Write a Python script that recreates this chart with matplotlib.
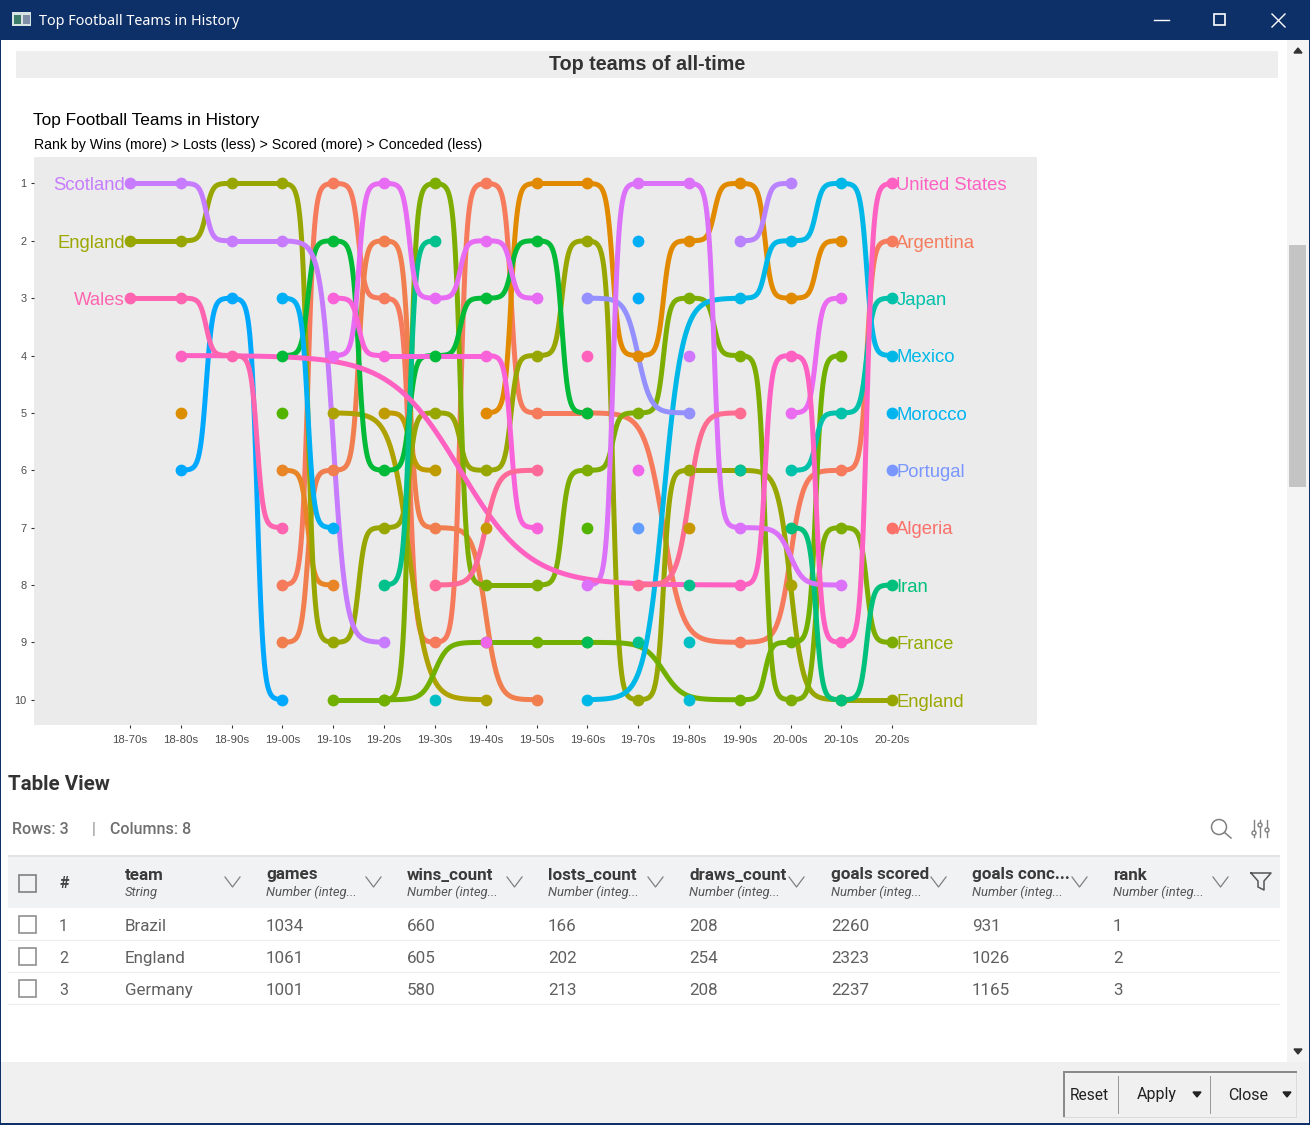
import numpy as np
import matplotlib
matplotlib.use('Agg')
import matplotlib.pyplot as plt
from matplotlib.patches import Rectangle, Circle, Polygon

decades = ['18-70s', '18-80s', '18-90s', '19-00s', '19-10s', '19-20s', '19-30s', '19-40s',
           '19-50s', '19-60s', '19-70s', '19-80s', '19-90s', '20-00s', '20-10s', '20-20s']
ranks = list(range(1, 11))

_ = None
# rank per decade, one list per line, in hue (alphabetical) order
algeria =    [_, _, _, _, _, _, _, _, _, _, _, _, _, _, _, 7]
argentina =  [_, _, _, 8, 1, 3, 9, 1, 5, 5, _, _, 9, _, 6, 2]
team_03 =    [_, _, _, 9, 6, 2, 7, _, 10, _, _, _, _, _, _, _]
team_04 =    [_, _, _, 6, 8, _, _, _, _, _, _, _, _, _, _, _]
team_05 =    [_, _, _, _, _, _, _, 5, 1, 1, 4, 2, 1, 3, 2, _]
team_06 =    [_, 5, _, _, _, _, _, _, _, _, _, _, _, _, _, _]
team_07 =    [_, _, _, _, _, 5, 6, _, _, _, _, _, _, _, _, _]
team_08 =    [_, _, _, _, _, _, _, 7, _, _, _, _, _, _, _, _]
team_09 =    [_, _, _, _, _, _, _, _, _, _, _, 7, _, _, _, _]
team_10 =    [_, _, _, _, 5, _, _, 10, _, _, _, _, _, _, _, _]
team_11 =    [_, _, _, _, _, _, _, _, _, _, _, _, _, 8, _, _]
england =    [2, 2, 1, 1, 9, 7, 5, 6, 4, 2, 10, 6, 6, _, 10, 10]
france =     [_, _, _, _, _, 10, 1, 8, 8, 6, 5, 3, 4, 10, 7, 9]
team_14 =    [_, _, _, _, 10, 10, _, 9, 9, 9, _, _, 10, 9, 4, _]
team_15a =   [_, _, _, 5, _, _, _, _, _, _, _, _, _, _, _, _]
team_15b =   [_, _, _, _, _, _, _, _, _, 7, _, _, _, _, _, _]
team_16 =    [_, _, _, 4, 2, 6, 4, 3, 2, 5, _, _, _, _, _, _]
team_17 =    [_, _, _, _, _, _, _, _, _, 9, _, _, _, _, _, _]
iran =       [_, _, _, _, _, _, _, _, _, _, _, _, _, 7, 10, 8]
team_19a =   [_, _, _, _, _, 8, 2, _, _, _, _, _, _, _, _, _]
team_19b =   [_, _, _, _, _, _, _, _, _, _, 9, _, _, _, _, _]
team_19c =   [_, _, _, _, _, _, _, _, _, _, _, 8, _, _, _, _]
team_20 =    [_, _, _, _, _, _, _, _, _, _, _, _, 6, _, _, _]
japan =      [_, _, _, _, _, _, _, _, _, _, _, _, _, 6, 5, 3]
team_22a =   [_, _, _, _, _, _, 10, _, _, _, _, _, _, _, _, _]
team_22b =   [_, _, _, _, _, _, _, _, _, _, _, 9, _, _, _, _]
team_23 =    [_, _, _, _, _, _, _, _, _, _, _, 10, _, _, _, _]
mexico =     [_, _, _, _, _, _, _, _, _, 10, _, _, 3, 2, 1, 4]
morocco =    [_, _, _, _, _, _, _, _, _, _, _, _, _, _, _, 5]
team_26 =    [_, _, _, 3, 7, _, _, _, _, _, _, _, _, _, _, _]
team_27 =    [_, _, _, _, _, _, _, _, _, _, 2, _, _, _, _, _]
team_28 =    [_, _, _, _, _, _, _, _, _, _, 3, _, _, _, _, _]
team_29 =    [_, 6, 3, 10, _, _, _, _, _, _, _, _, _, _, _, _]
team_30 =    [_, _, _, _, _, _, _, _, _, _, 7, _, _, _, _, _]
portugal =   [_, _, _, _, _, _, _, _, _, _, _, _, _, _, _, 6]
team_32 =    [_, _, _, _, _, _, _, _, _, 3, _, 5, _, _, _, _]
team_33 =    [_, _, _, _, _, _, _, _, _, _, _, _, 2, 1, _, _]
scotland =   [1, 1, 2, 2, _, 9, _, _, _, _, _, _, _, _, _, _]
team_35 =    [_, _, _, _, _, _, _, _, _, _, _, 4, _, _, _, _]
team_36 =    [_, _, _, _, _, _, _, _, _, 8, 1, 1, 7, _, 8, _]
team_37 =    [_, _, _, _, 4, 1, 3, 2, 3, _, _, _, _, _, _, _]
team_38 =    [_, _, _, _, _, _, _, _, _, _, _, _, _, 5, 3, _]
team_39a =   [_, _, _, _, _, _, _, 9, _, _, _, _, _, _, _, _]
team_39b =   [_, _, _, _, _, _, _, _, _, _, 6, _, _, _, _, _]
team_40 =    [_, _, _, _, 3, 4, _, 4, 7, _, _, _, _, _, _, _]
team_41 =    [_, _, _, _, _, _, _, _, _, 4, _, _, _, _, _, _]
usa =        [_, 4, _, _, _, _, _, _, _, _, _, _, 8, 4, 9, 1]
wales =      [3, 3, 4, 7, _, _, _, _, _, _, _, _, _, _, _, _]
team_44 =    [_, _, _, _, _, _, 8, _, 6, _, _, _, _, _, _, _]
team_45 =    [_, _, _, _, _, _, _, _, _, _, 8, _, 5, _, _, _]

team_lines = [algeria, argentina, team_03, team_04, team_05, team_06, team_07, team_08, team_09,
              team_10, team_11, england, france, team_14, team_15a, team_15b, team_16, team_17, iran,
              team_19a, team_19b, team_19c, team_20, japan, team_22a, team_22b, team_23, mexico,
              morocco, team_26, team_27, team_28, team_29, team_30, portugal, team_32, team_33,
              scotland, team_35, team_36, team_37, team_38, team_39a, team_39b, team_40, team_41,
              usa, wales, team_44, team_45]
team_colors = ['#FB7069', '#F67B5C', '#F07E4F', '#E88526', '#E18A00', '#DB8E00', '#C09B00', '#C49A00',
               '#C89800', '#AEA200', '#A9A400', '#97A600', '#7DAD00', '#72B000', '#53B400', '#53B400',
               '#00BA38', '#00BC56', '#00C07B', '#00C08B', '#00C08B', '#00C08B', '#00C19C', '#00C1A9',
               '#00BFC4', '#00BFC4', '#00BCD8', '#00B8E7', '#00B4F0', '#00B0F6', '#00AEF8', '#00ACFA',
               '#00A9FF', '#619CFF', '#7997FF', '#9590FF', '#B983FF', '#C77CFF', '#CF78FF', '#DC71FA',
               '#E76BF3', '#EA6AF0', '#F066EA', '#F066EA', '#F962D8', '#FF62BC', '#FF61C3', '#FF64B0',
               '#FF6A98', '#FF6C91']

left_labels = ['Scotland', 'England', 'Wales']
left_ranks = [1, 2, 3]
left_colors = ['#C77CFF', '#9CA700', '#FF64B0']
right_labels = ['United States', 'Argentina', 'Japan', 'Mexico', 'Morocco', 'Portugal', 'Algeria',
                'Iran', 'France', 'England']
right_ranks = [1, 2, 3, 4, 5, 6, 7, 8, 9, 10]
right_colors = ['#FF61C3', '#F67B5C', '#00C1A9', '#00B8E7', '#00B4F0', '#7997FF', '#FB7069',
                '#00C07B', '#93AA00', '#9CA700']

table_cols = ['team', 'games', 'wins_count', 'losts_count', 'draws_count', 'goals scored',
              'goals conc...', 'rank']
table_types = ['String'] + ['Number (integ...'] * 7
table_rows = [['Brazil', '1034', '660', '166', '208', '2260', '931', '1'],
              ['England', '1061', '605', '202', '254', '2323', '1026', '2'],
              ['Germany', '1001', '580', '213', '208', '2237', '1165', '3']]


def bump(x0, x1, y0, y1, smooth=8, n=100):
    # same curve as ggbump
    s = np.linspace(-smooth, smooth, n)
    t = np.exp(s) / (np.exp(s) + 1)
    return x0 + (x1 - x0) * (s + smooth) / (2 * smooth), y0 + (y1 - y0) * t


W, H = 1310, 1125
fig = plt.figure(figsize=(W / 100, H / 100), dpi=100, facecolor='white')

# window around the chart, in pixels
bg = fig.add_axes([0, 0, 1, 1])
bg.set_xlim(0, W)
bg.set_ylim(H, 0)
bg.axis('off')


def px(size):
    return size * 0.72


def box(x0, y0, x1, y1, color, **kw):
    bg.add_patch(Rectangle((x0, y0), x1 - x0, y1 - y0, facecolor=color, edgecolor='none', **kw))


def text(x, y, s, size, color='#333333', font='Roboto', **kw):
    kw.setdefault('va', 'center')
    bg.text(x, y + 1, s, fontsize=px(size), color=color, family=font, **kw)


navy = '#0E3068'
box(0, 0, W, 40, navy)
box(0, 0, 1, H, navy)
box(W - 1, 0, W, H, navy)
box(0, H - 2, W, H, navy)
box(12, 12, 31, 26, '#D8E4E4')
box(14, 15, 21, 24, '#3E7C6A')
box(23, 15, 30, 24, '#7F8FA8')
text(39, 20.5, 'Top Football Teams in History', 14.4, color='white', font='Noto Sans')
bg.plot([1154, 1169], [20, 20], color='white', lw=1)
bg.add_patch(Rectangle((1214, 14), 11, 11, fill=False, edgecolor='white', lw=1.2))
bg.plot([1272, 1285], [14, 27], color='white', lw=1)
bg.plot([1272, 1285], [27, 14], color='white', lw=1)

# scrollbar
box(1287, 40, 1309, 1062, '#F4F4F4')
box(1289, 245, 1306, 487, '#C4C4C4')
bg.add_patch(Polygon([[1294, 53], [1302, 53], [1298, 48]], color='#333333'))
bg.add_patch(Polygon([[1294, 1049], [1302, 1049], [1298, 1054]], color='#333333'))

box(16, 51, 1278, 78, '#EEEEEE')
text(647, 64, 'Top teams of all-time', 19.8, font='Liberation Sans', weight='bold', ha='center')
text(33, 120, 'Top Football Teams in History', 17.2, color='black', font='Liberation Sans')
text(34, 143.5, 'Rank by Wins (more) > Losts (less) > Scored (more) > Conceded (less)', 14.1,
     color='black', font='Liberation Sans')

# the bump chart
ax = fig.add_axes([34 / W, 1 - 725 / H, (1037 - 34) / W, (725 - 157) / H])
ax.set_facecolor('#EBEBEB')
for s in ax.spines.values():
    s.set_visible(False)
ax.set_xlim(-1.89, 17.85)
ax.set_ylim(10.44, 0.54)
ax.set_xticks(range(len(decades)))
ax.set_xticklabels(decades, fontsize=px(11.5), color='#4D4D4D', family='Liberation Sans')
ax.set_yticks(ranks)
ax.set_yticklabels(ranks, fontsize=px(11), color='#4D4D4D', family='Liberation Sans')
ax.tick_params(length=2.5, width=0.8, color='#333333', pad=3)
ax.tick_params(axis='x', pad=4.5)

for vals, col in zip(team_lines, team_colors):
    known = [(i, v) for i, v in enumerate(vals) if v is not None]
    for (x0, y0), (x1, y1) in zip(known[:-1], known[1:]):
        xs, ys = bump(x0, x1, y0, y1)
        ax.plot(xs, ys, color=col, lw=3.6, solid_capstyle='round', zorder=2)
for vals, col in zip(team_lines, team_colors):
    known = [(i, v) for i, v in enumerate(vals) if v is not None]
    ax.scatter([k[0] for k in known], [k[1] for k in known], s=72, color=col, linewidths=0, zorder=3)

for name, r, col in zip(left_labels, left_ranks, left_colors):
    ax.text(-0.1, r + 0.04, name, color=col, fontsize=px(18.5), ha='right', va='center',
            family='Liberation Sans')
for name, r, col in zip(right_labels, right_ranks, right_colors):
    ax.text(15.08, r + 0.04, name, color=col, fontsize=px(18.5), ha='left', va='center',
            family='Liberation Sans')

# table part
text(8, 784, 'Table View', 20.5, weight='bold')
text(12, 828, 'Rows: 3', 16, color='#6F6F6F', weight='medium')
text(92, 828, '|', 16, color='#8A8A8A')
text(110, 828, 'Columns: 8', 16, color='#6F6F6F', weight='medium')
bg.add_patch(Circle((1219, 827), 7.5, fill=False, edgecolor='#808080', lw=1.1))
bg.plot([1224.5, 1231], [832.5, 838], color='#808080', lw=1.1)
for sx, sy in zip([1254, 1260, 1267], [833, 825, 830]):
    bg.plot([sx, sx], [820, 837], color='#808080', lw=1)
    bg.add_patch(Circle((sx, sy), 2, facecolor='white', edgecolor='#808080', lw=1, zorder=3))

box(8, 855, 1280, 908, '#F1F2F4')
box(8, 855, 1280, 857, '#E2E3E5')
col_x = [125, 266, 407, 548, 689, 831, 972, 1113]
for x, c, t in zip(col_x, table_cols, table_types):
    text(x, 878.5, c, 17, color='#3A3A3A', weight='bold', va='baseline')
    text(x, 895, t, 13, color='#555555', style='italic', va='baseline')
    bg.plot([x + 100, x + 107.5, x + 115], [877, 887, 877], color='#808080', lw=0.9)
text(59, 887, '#', 16, color='#444444', weight='bold', va='baseline')
bg.plot([1251, 1271, 1264, 1264, 1258, 1258, 1251], [873, 873, 881, 890, 887, 881, 873],
        color='#555555', lw=1.1)
bg.add_patch(Rectangle((19, 875), 17, 17, fill=False, edgecolor='#808080', lw=1.2))

row_y = [925, 957, 989]
for y, row, n in zip(row_y, table_rows, range(1, 4)):
    bg.add_patch(Rectangle((19, y - 9), 17, 17, fill=False, edgecolor='#909090', lw=1.2))
    text(59, y + 5, str(n), 16, color='#606060', va='baseline')
    for x, v in zip(col_x, row):
        text(x, y + 5, v, 17, color='#606060', va='baseline')
for y in [940, 972, 1004]:
    box(8, y - 0.5, 1280, y + 0.5, '#ECECEC')

# bottom button bar
box(1, 1062, W - 1, H - 2, '#F0F0F0')
box(1063, 1071, 1297, 1073, '#8A8A8A')
box(1063, 1071, 1065, 1118, '#8A8A8A')
box(1296, 1073, 1297, 1118, '#DADADA')
box(1063, 1117, 1297, 1118, '#DADADA')
for x in [1118, 1210]:
    box(x, 1076, x + 1, 1114, '#999999')
text(1089, 1094, 'Reset', 15.5, color='#222222', ha='center')
text(1157, 1094, 'Apply', 16, color='#222222', ha='center')
text(1248, 1094, 'Close', 16, color='#222222', ha='center')
for x in [1197, 1287]:
    bg.add_patch(Polygon([[x - 4, 1092], [x + 4, 1092], [x, 1097]], color='#222222'))

fig.savefig('out.png', dpi=100)
